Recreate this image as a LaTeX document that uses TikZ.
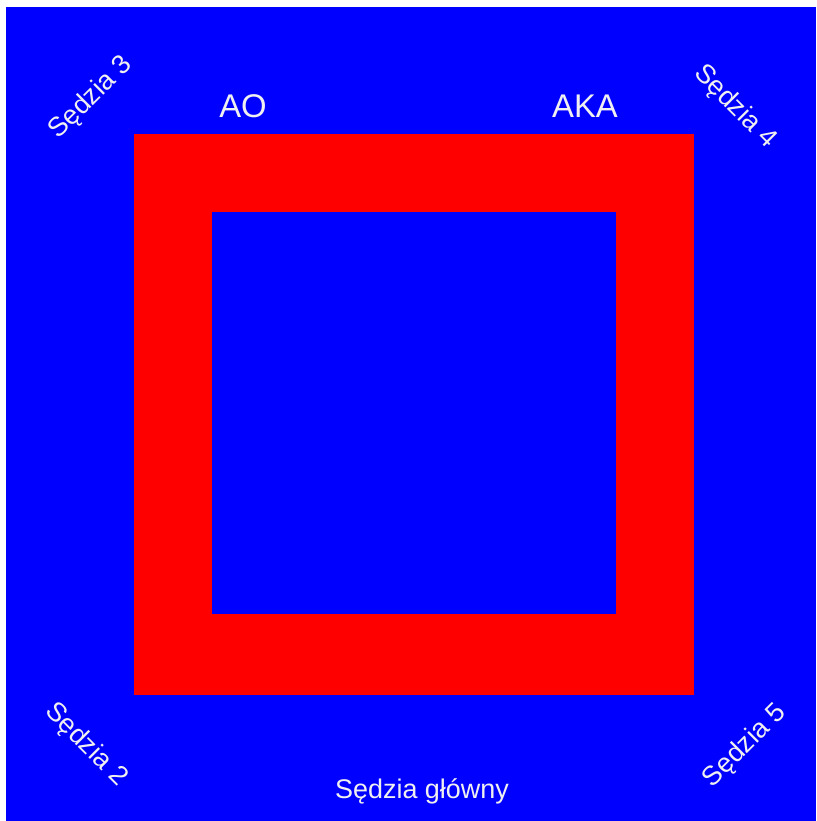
\documentclass[tikz,border=0pt]{standalone}
\usepackage{fontspec}
\setmainfont{Liberation Sans}
\usepackage{tikz}
\definecolor{matblue}{HTML}{0000FF}
\definecolor{matred}{HTML}{FF0000}
\definecolor{labelwhite}{HTML}{F0F0F0}
\tikzset{
  area/.style={fill=matblue, draw=none},
  border/.style={fill=matred, draw=none},
  judge/.style={text=labelwhite, inner sep=0pt, font=\fontsize{23}{27}\selectfont},
  side/.style={text=labelwhite, inner sep=0pt, font=\fontsize{28}{32}\selectfont},
}

\begin{document}
\begin{tikzpicture}[x=0.03cm, y=-0.03cm]
  \useasboundingbox[fill=white] (0,0) rectangle (816,821);
  \fill[area] (6,7) rectangle (816,821);
  \fill[border] (134,134) rectangle (694,695);
  \fill[area] (212,212) rectangle (616,614);
  \node[side] (ao) at (243,106) {AO};
  \node[side] (aka) at (585,106) {AKA};
  \node[judge, rotate=45] (j3) at (91,98) {Sędzia 3};
  \node[judge, rotate=-45] (j4) at (735,107) {Sędzia 4};
  \node[judge, rotate=-45] (j2) at (86,745) {Sędzia 2};
  \node[judge, rotate=45] (j5) at (745,746) {Sędzia 5};
  \node[judge] (main) at (422,791) {Sędzia główny};
\end{tikzpicture}
\end{document}
